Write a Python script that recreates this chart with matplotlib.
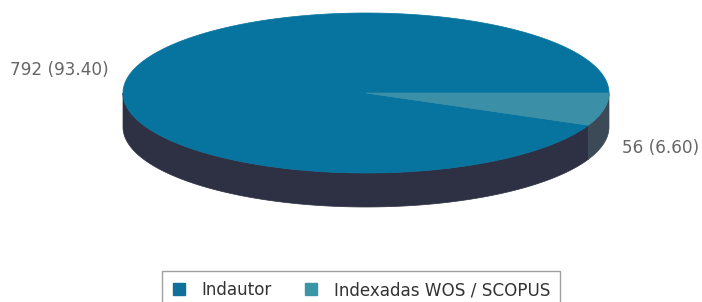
import numpy as np
import matplotlib
matplotlib.use("Agg")
import matplotlib.pyplot as plt
from matplotlib.patches import Polygon
from matplotlib.lines import Line2D

categories = ["Indautor", "Indexadas WOS / SCOPUS"]
values = [792, 56]
percents = [93.40, 6.60]
top_colors = ["#06749F", "#3B8FA6"]
side_colors = ["#2E3143", "#3C4A57"]
legend_colors = ["#10709A", "#3A95A5"]

W, H = 702, 302
fig = plt.figure(figsize=(W / 100, H / 100), dpi=100)
ax = fig.add_axes([0, 0, 1, 1])
ax.set_xlim(0, W)
ax.set_ylim(H, 0)
ax.axis("off")

cx, cy, rx, ry, depth = 366, 93, 243, 80, 34

def pt(theta_deg, dy=0):
    t = np.radians(theta_deg)
    return cx + rx * np.cos(t), cy - ry * np.sin(t) + dy

total = sum(values)
fracs = [v / total for v in values]
small_span = fracs[1] * 360
slices = [(-360, -small_span), (-small_span, 0)]

# sides (visible front: theta in [-180, 0])
for i, (a, b) in enumerate(slices):
    lo, hi = max(a, -180), min(b, 0)
    if lo >= hi:
        continue
    th = np.linspace(lo, hi, 200)
    top = [pt(t) for t in th]
    bot = [pt(t, depth) for t in th[::-1]]
    ax.add_patch(Polygon(top + bot, closed=True, facecolor=side_colors[i],
                         edgecolor=side_colors[i], lw=0.5))

# tops
for i, (a, b) in enumerate(slices):
    th = np.linspace(a, b, 400)
    poly = [(cx, cy)] + [pt(t) for t in th]
    ax.add_patch(Polygon(poly, closed=True, facecolor=top_colors[i],
                         edgecolor=top_colors[i], lw=0.5))

labels = [f"{v} ({p:.2f})" for v, p in zip(values, percents)]
ax.text(109, 70, labels[0], ha="right", va="center", fontsize=12.2,
        color="#666666", family="DejaVu Sans")
ax.text(622, 148, labels[1], ha="left", va="center", fontsize=12.2,
        color="#666666", family="DejaVu Sans")

handles = [Line2D([], [], marker="s", linestyle="none", markersize=9,
                  markerfacecolor=c, markeredgecolor=c) for c in legend_colors]
leg = fig.legend(handles, categories, ncol=2, loc="upper left",
                 bbox_to_anchor=(162 / W, 1 - 271 / H), frameon=True, fancybox=False,
                 edgecolor="#888888", prop={"family": "DejaVu Sans", "size": 12.1},
                 handletextpad=0.95, columnspacing=2.0, borderpad=0.6,
                 handlelength=0.77, borderaxespad=0)
leg.get_frame().set_linewidth(1.0)
for t in leg.get_texts():
    t.set_color("#333333")

fig.savefig("out.png", dpi=100, facecolor="white")
